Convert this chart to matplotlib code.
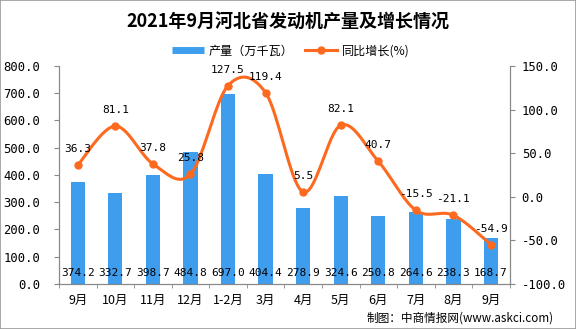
import numpy as np
import matplotlib
matplotlib.use("Agg")
from matplotlib import pyplot as plt
from matplotlib.lines import Line2D
from matplotlib.patches import Rectangle

plt.rcParams["font.family"] = ["Noto Sans CJK SC", "DejaVu Sans"]

months = ["9月", "10月", "11月", "12月", "1-2月", "3月", "4月", "5月", "6月", "7月", "8月", "9月"]
output = [374.2, 332.7, 398.7, 484.8, 697.0, 404.4, 278.9, 324.6, 250.8, 264.6, 238.3, 168.7]
growth = [36.3, 81.1, 37.8, 25.8, 127.5, 119.4, 5.5, 82.1, 40.7, -15.5, -21.1, -54.9]

BAR = "#3f9ded"
LINE = "#fd6a1f"
MONO = ["DejaVu Sans Mono", "Noto Sans CJK SC"]


def smooth(xs, ys, n=20):
    # catmull-rom curve through the points, for drawing only
    pts = np.column_stack([xs, ys]).astype(float)
    p = np.vstack([pts[0], pts, pts[-1]])
    out = []
    t = np.linspace(0, 1, n, endpoint=False)[:, None]
    for i in range(1, len(p) - 2):
        p0, p1, p2, p3 = p[i - 1], p[i], p[i + 1], p[i + 2]
        seg = 0.5 * ((2 * p1) + (-p0 + p2) * t + (2 * p0 - 5 * p1 + 4 * p2 - p3) * t ** 2
                     + (-p0 + 3 * p1 - 3 * p2 + p3) * t ** 3)
        out.append(seg)
    out.append(pts[-1][None, :])
    c = np.vstack(out)
    return c[:, 0], c[:, 1]


fig = plt.figure(figsize=(5.76, 3.29), dpi=100)
fig.patches.append(Rectangle((0, 0), 1, 1, transform=fig.transFigure, fill=False,
                             edgecolor="#999999", linewidth=1.2))
ax = fig.add_axes([0.1024, 0.1368, 0.7826, 0.6626])
ax2 = ax.twinx()

x = np.arange(len(months))
ax.bar(x, output, width=0.38, color=BAR, zorder=2)
ax.set_xlim(-0.5, len(months) - 0.5)
ax.set_ylim(0, 800)
ax.set_yticks(np.arange(0, 801, 100))
ax.set_yticklabels([f"{v:.1f}" for v in np.arange(0, 801, 100)], family=MONO, fontsize=8.8)
ax.set_xticks(x)
ax.set_xticklabels(months, fontsize=9)
ax.set_xticks(np.arange(-0.5, len(months), 1), minor=True)
ax.tick_params(axis="x", which="major", length=0, pad=7)
ax.tick_params(axis="x", which="minor", length=3, color="#888888")
ax.tick_params(axis="y", length=3.6, color="#888888", pad=10)
for v, xi in zip(output, x):
    ax.text(xi, 40, f"{v:.1f}", ha="center", va="center", fontsize=8, family=MONO, zorder=3)

sx, sy = smooth(x, growth)
ax2.plot(sx, sy, color=LINE, linewidth=2.2, zorder=4)
ax2.plot(x, growth, "o", color=LINE, markersize=5, zorder=5)
ax2.set_ylim(-100, 150)
ax2.set_yticks(np.arange(-100, 151, 50))
ax2.set_yticklabels([f"{v:.1f}" for v in np.arange(-100, 151, 50)], family=MONO, fontsize=8.8)
ax2.tick_params(axis="y", length=3.6, color="#888888", pad=5)
for v, xi in zip(growth, x):
    ax2.annotate(f"{v:.1f}", (xi, v), xytext=(0, 8), textcoords="offset points",
                 ha="center", va="bottom", fontsize=8, family=MONO, zorder=6)

for a in (ax, ax2):
    for s in a.spines.values():
        s.set_color("#888888")
    a.spines["top"].set_visible(False)

fig.text(0.5, 0.933, "2021年9月河北省发动机产量及增长情况", ha="center", va="center",
         fontsize=13, fontweight="bold")
handles = [Line2D([], [], color=BAR, linewidth=5, solid_capstyle="butt"),
           Line2D([], [], color=LINE, linewidth=2.2, marker="o", markersize=5)]
fig.legend(handles, ["产量（万千瓦）", "同比增长(%)"], loc="center", bbox_to_anchor=(0.505, 0.845),
           ncol=2, frameon=False, fontsize=8.7, handlelength=2.6, columnspacing=1.0,
           handletextpad=0.4)
fig.text(0.962, 0.033, "制图：中商情报网(www.askci.com)", ha="right", va="center", fontsize=8.4)

fig.savefig("out.png", dpi=100)
